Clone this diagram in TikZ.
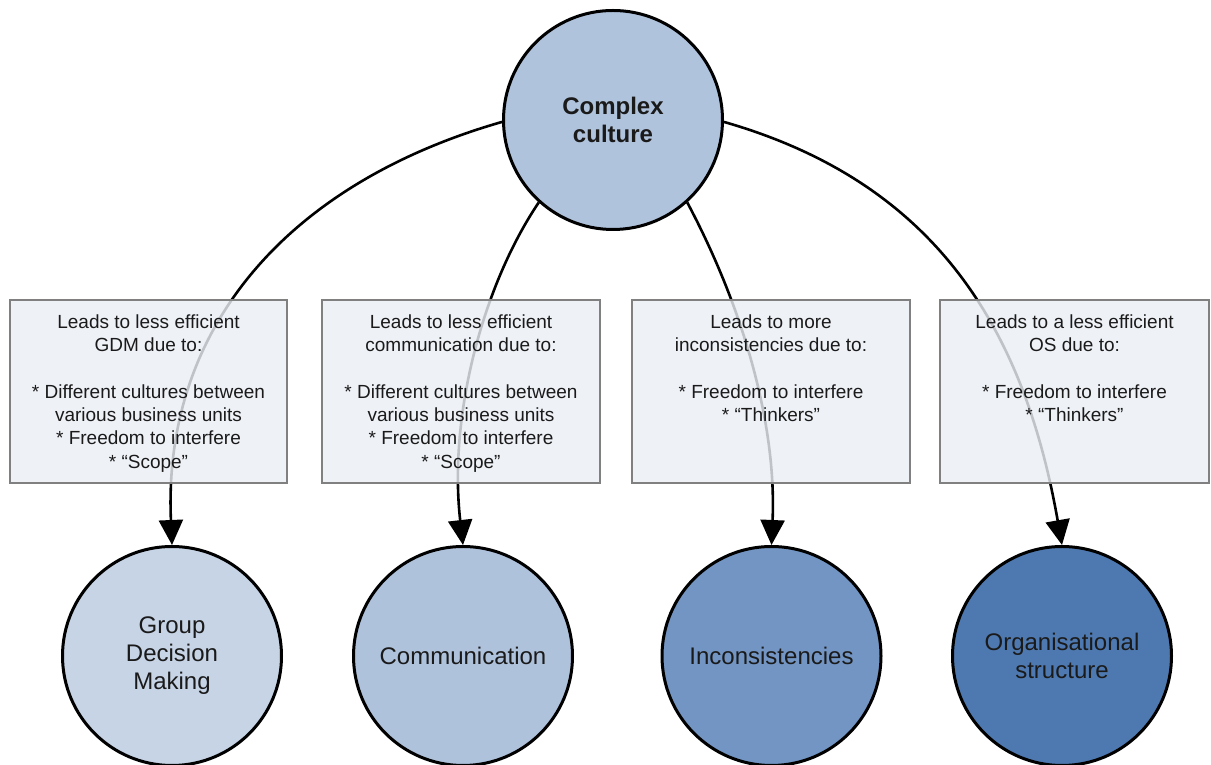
\documentclass[tikz,border=0pt]{standalone}
\usepackage{fontspec}
\setmainfont{Liberation Sans}
\usetikzlibrary{arrows.meta}

\definecolor{topfill}{HTML}{B0C3DD}
\definecolor{gdmfill}{HTML}{C6D4E6}
\definecolor{comfill}{HTML}{AFC2DC}
\definecolor{incfill}{HTML}{7295C3}
\definecolor{orgfill}{HTML}{4E79B0}
\definecolor{boxfill}{HTML}{EAEEF4}
\definecolor{boxline}{HTML}{808080}
\definecolor{inktext}{HTML}{1A1A1A}

\begin{document}
\begin{tikzpicture}[x=1pt,y=1pt,
  hub/.style={circle, draw=black, line width=3pt, minimum size=219pt,
    inner sep=0pt, align=center, text=inktext,
    font=\fontsize{24}{28}\selectfont},
  reasonbox/.style={rectangle, draw=boxline, line width=1.2pt, fill=boxfill,
    fill opacity=0.82, minimum height=183pt, inner sep=0pt},
  reasontext/.style={anchor=north, align=center, inner sep=0pt, text=inktext,
    font=\fontsize{19}{23.3}\selectfont},
  link/.style={line width=2.6pt, draw=black,
    -{Triangle[length=25pt,width=24pt]}}
]
\useasboundingbox (0,0) rectangle (1211,765);

% central cause
\node[hub, fill=topfill, font=\fontsize{24}{28}\selectfont\bfseries]
  (top) at (613,645) {Complex\\culture};

% affected areas
\node[hub, fill=gdmfill] (c1) at (172,109)   {Group\\Decision\\Making};
\node[hub, fill=comfill] (c2) at (463,109)   {Communication};
\node[hub, fill=incfill] (c3) at (771.5,109) {Inconsistencies};
\node[hub, fill=orgfill] (c4) at (1062,109)  {Organisational\\structure};

% connectors, passing behind the explanation boxes
\draw[link] (top.181) to[out=196, in=92.5, out distance=220pt, in distance=220pt] (c1.north);
\draw[link] (top.228) to[out=236, in=96.5, out distance=100pt, in distance=130pt] (c2.north);
\draw[link] (top.312) to[out=298, in=87.5, out distance=120pt, in distance=120pt] (c3.north);
\draw[link] (top.359) to[out=344, in=100, out distance=220pt, in distance=220pt] (c4.north);

% explanation boxes
\node[reasonbox, minimum width=277pt] (b1) at (148.5,373.5) {};
\node[reasonbox, minimum width=278pt] (b2) at (461,373.5) {};
\node[reasonbox, minimum width=278pt] (b3) at (771,373.5) {};
\node[reasonbox, minimum width=269pt] (b4) at (1074.5,373.5) {};

\node[reasontext] (t1) at ([yshift=-15pt]b1.north)
  {Leads to less efficient\\GDM due to:\\[23.3pt]
   * Different cultures between\\various business units\\
   * Freedom to interfere\\* “Scope”};
\node[reasontext] (t2) at ([yshift=-15pt]b2.north)
  {Leads to less efficient\\communication due to:\\[23.3pt]
   * Different cultures between\\various business units\\
   * Freedom to interfere\\* “Scope”};
\node[reasontext] (t3) at ([yshift=-15pt]b3.north)
  {Leads to more\\inconsistencies due to:\\[23.3pt]
   * Freedom to interfere\\* “Thinkers”};
\node[reasontext] (t4) at ([yshift=-15pt]b4.north)
  {Leads to a less efficient\\OS due to:\\[23.3pt]
   * Freedom to interfere\\* “Thinkers”};
\end{tikzpicture}
\end{document}
